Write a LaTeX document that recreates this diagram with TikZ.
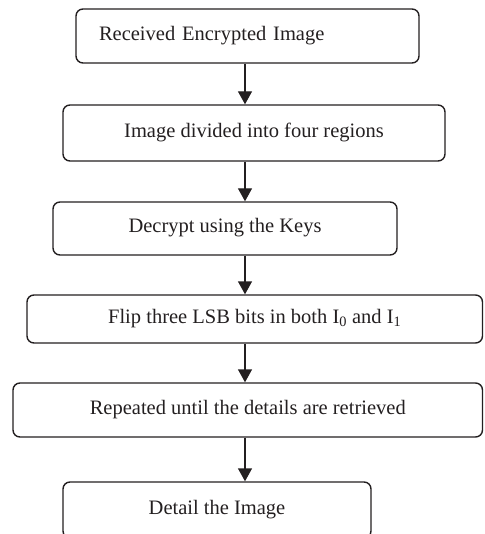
\documentclass[tikz,border=0pt]{standalone}
\usepackage{fontspec}
\setmainfont{Liberation Serif}
\usetikzlibrary{arrows.meta}
\definecolor{ink}{HTML}{231F20}
\tikzset{
  box/.style={draw=ink, line width=1.4pt, rounded corners=7pt, text=ink,
    font=\fontsize{20.5}{24}\selectfont, inner sep=0pt,
    text height=13.5pt, text depth=4.5pt, anchor=center},
  arr/.style={draw=ink, line width=1.4pt, -{Triangle[length=13pt,width=14pt]}}
}
\begin{document}
\begin{tikzpicture}[x=1pt,y=-1pt]
\useasboundingbox (0,0) rectangle (484,534);
\clip (0,0) rectangle (484,534);
\node[box, minimum height=54pt, text width=297pt, inner xsep=23pt, align=left] (b1) at (247.5,36) {Received Encrypted Image};
\node[box, minimum width=382pt, minimum height=56pt] (b2) at (254,133) {Image divided into four regions};
\node[box, minimum width=344pt, minimum height=53pt] (b3) at (225,228.5) {Decrypt using the Keys};
\node[box, minimum width=455.5pt, minimum height=48pt] (b4) at (254.75,319) {Flip three LSB bits in both I\textsubscript{0} and I\textsubscript{1}};
\node[box, minimum width=469.5pt, minimum height=54pt] (b5) at (247.75,410) {Repeated until the details are retrieved};
\node[box, minimum width=308pt, minimum height=56pt] (b6) at (217,510) {Detail the Image};
\coordinate (ax) at (245,0);
\draw[arr] (ax |- b1.south) -- (ax |- b2.north);
\draw[arr] (ax |- b2.south) -- (ax |- b3.north);
\draw[arr] (ax |- b3.south) -- (ax |- b4.north);
\draw[arr] (ax |- b4.south) -- (ax |- b5.north);
\draw[arr] (ax |- b5.south) -- (ax |- b6.north);
\end{tikzpicture}
\end{document}
